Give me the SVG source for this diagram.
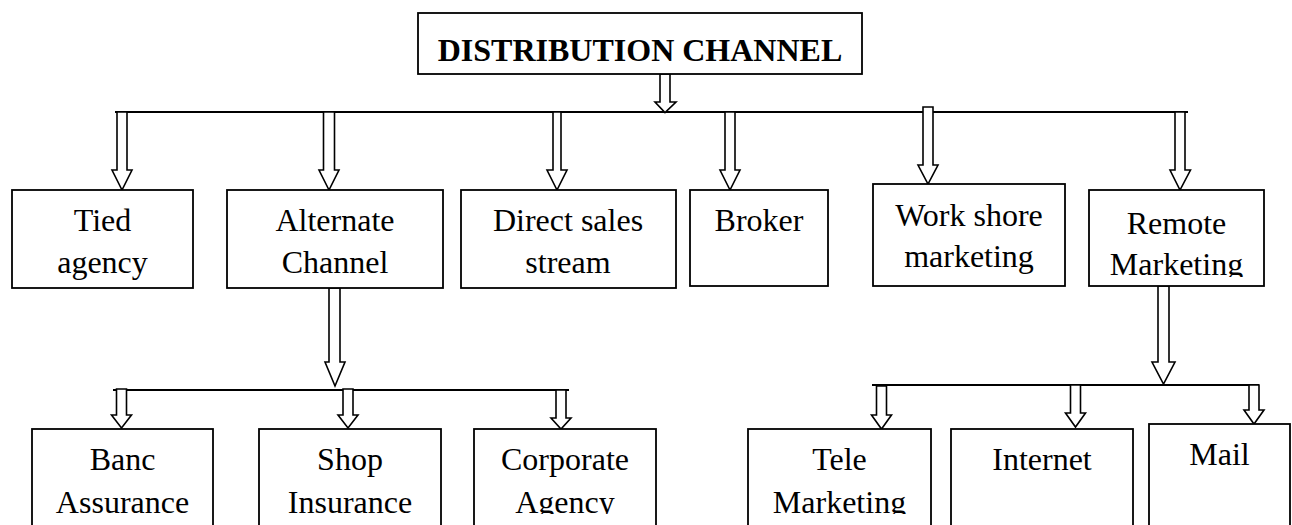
<svg xmlns="http://www.w3.org/2000/svg" width="1292" height="525" viewBox="0 0 1292 525">
  <style>
    .box { fill: #ffffff; stroke: #000000; stroke-width: 1.8; }
    .arrow { fill: #ffffff; stroke: #000000; stroke-width: 1.6; stroke-linejoin: miter; }
    .bus { stroke: #000000; stroke-width: 2; fill: none; }
    .lbl { font-family: "Liberation Serif", "Times New Roman", serif; font-size: 32px; text-anchor: middle; fill: #000000; }
    .title { font-weight: bold; }
  </style>
  <defs>
    <clipPath id="clip-remote"><rect x="1089" y="190" width="175" height="87"/></clipPath>
    <clipPath id="clip-bottom"><rect x="0" y="429" width="1292" height="85"/></clipPath>
  </defs>
  <rect x="0" y="0" width="1292" height="525" fill="#ffffff"/>

  <!-- connectors: bus lines and block arrows -->
  <g id="connectors">
    <line class="bus" x1="115" y1="112" x2="1188" y2="112"/>
    <line class="bus" x1="113" y1="390" x2="569" y2="390"/>
    <line class="bus" x1="872" y1="385" x2="1259" y2="385"/>

    <polygon class="arrow" points="660,74 670,74 670,102 676,102 665,112.5 655,102 660,102"/>

    <polygon class="arrow" points="117,112 127,112 127,170 132,170 122,190 112,170 117,170"/>
    <polygon class="arrow" points="323.5,112 334.5,112 334.5,170 339,170 329,190 319,170 323.5,170"/>
    <polygon class="arrow" points="553,112 561,112 561,170 567,170 557,190 547,170 553,170"/>
    <polygon class="arrow" points="725,112 735,112 735,170 740,170 730,190 720,170 725,170"/>
    <polygon class="arrow" points="923,107 933,107 933,165 938,165 928,184 918,165 923,165"/>
    <polygon class="arrow" points="1175,112 1185,112 1185,170 1190.5,170 1180,190 1170,170 1175,170"/>

    <polygon class="arrow" points="329,288 340,288 340,362 345,362 335,386 325,362 329,362"/>
    <polygon class="arrow" points="1158,286 1169,286 1169,362 1175,362 1163.5,384 1152,362 1158,362"/>

    <polygon class="arrow" points="116.5,389 126.5,389 126.5,415 131.5,415 121.5,428 111.5,415 116.5,415"/>
    <polygon class="arrow" points="343,389 353,389 353,415 358,415 348,428 338,415 343,415"/>
    <polygon class="arrow" points="556,390 566,390 566,418 571,418 561,429 551,418 556,418"/>
    <polygon class="arrow" points="876.5,386 886.5,386 886.5,415 891.5,415 881.5,429 871.5,415 876.5,415"/>
    <polygon class="arrow" points="1070.5,385 1080.5,385 1080.5,413 1085.5,413 1075.5,427 1065.5,413 1070.5,413"/>
    <polygon class="arrow" points="1249,385 1259,385 1259,410 1264,410 1254,424 1244,410 1249,410"/>
  </g>

  <g id="distribution-channel">
    <rect class="box" x="418" y="13" width="444" height="61"/>
    <text class="lbl title" x="640" y="61">DISTRIBUTION CHANNEL</text>
  </g>

  <g id="tied-agency">
    <rect class="box" x="12" y="190" width="181" height="98"/>
    <text class="lbl" x="102.5" y="231">Tied</text>
    <text class="lbl" x="102.5" y="273">agency</text>
  </g>
  <g id="alternate-channel">
    <rect class="box" x="227" y="190" width="216" height="98"/>
    <text class="lbl" x="335" y="231">Alternate</text>
    <text class="lbl" x="335" y="273">Channel</text>
  </g>
  <g id="direct-sales">
    <rect class="box" x="461" y="190" width="215" height="98"/>
    <text class="lbl" x="568" y="231">Direct sales</text>
    <text class="lbl" x="568" y="273">stream</text>
  </g>
  <g id="broker">
    <rect class="box" x="690" y="190" width="138" height="96"/>
    <text class="lbl" x="759" y="231">Broker</text>
  </g>
  <g id="work-shore">
    <rect class="box" x="873" y="184" width="192" height="102"/>
    <text class="lbl" x="969" y="226">Work shore</text>
    <text class="lbl" x="969" y="267">marketing</text>
  </g>
  <g id="remote-marketing">
    <rect class="box" x="1089" y="190" width="175" height="96"/>
    <g clip-path="url(#clip-remote)">
      <text class="lbl" x="1176.5" y="234">Remote</text>
      <text class="lbl" x="1176.5" y="275">Marketing</text>
    </g>
  </g>

  <g id="banc-assurance">
    <rect class="box" x="32" y="429" width="181" height="110"/>
    <g clip-path="url(#clip-bottom)">
      <text class="lbl" x="122.5" y="470">Banc</text>
      <text class="lbl" x="122.5" y="513">Assurance</text>
    </g>
  </g>
  <g id="shop-insurance">
    <rect class="box" x="259" y="429" width="182" height="110"/>
    <g clip-path="url(#clip-bottom)">
      <text class="lbl" x="350" y="470">Shop</text>
      <text class="lbl" x="350" y="513">Insurance</text>
    </g>
  </g>
  <g id="corporate-agency">
    <rect class="box" x="474" y="429" width="182" height="110"/>
    <g clip-path="url(#clip-bottom)">
      <text class="lbl" x="565" y="470">Corporate</text>
      <text class="lbl" x="565" y="513">Agency</text>
    </g>
  </g>
  <g id="tele-marketing">
    <rect class="box" x="748" y="429" width="183" height="110"/>
    <g clip-path="url(#clip-bottom)">
      <text class="lbl" x="839.5" y="470">Tele</text>
      <text class="lbl" x="839.5" y="513">Marketing</text>
    </g>
  </g>
  <g id="internet">
    <rect class="box" x="951" y="429" width="182" height="110"/>
    <text class="lbl" x="1042" y="470">Internet</text>
  </g>
  <g id="mail">
    <rect class="box" x="1149" y="424" width="141" height="115"/>
    <text class="lbl" x="1219.5" y="465">Mail</text>
  </g>
</svg>
